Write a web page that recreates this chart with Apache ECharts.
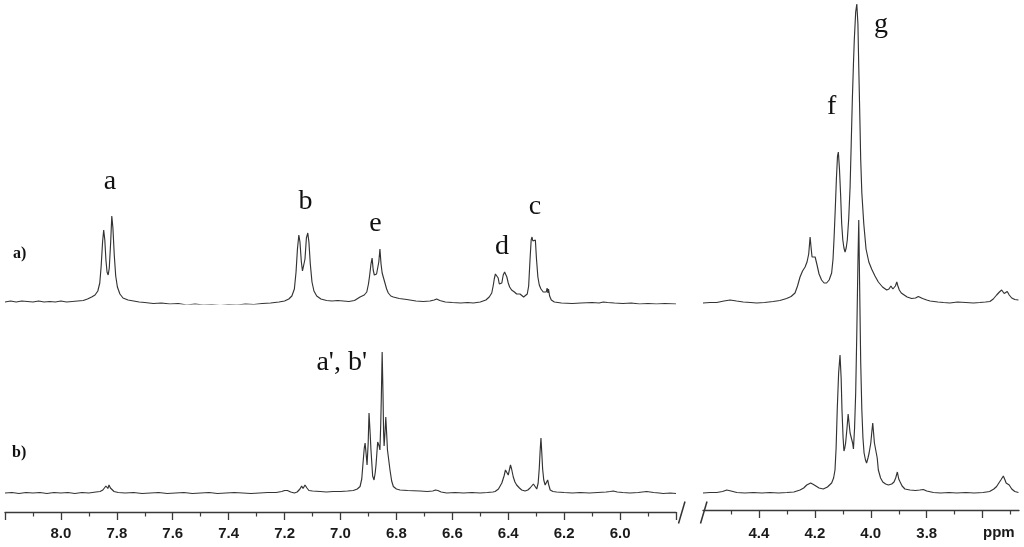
<!DOCTYPE html>
<html><head><meta charset="utf-8">
<script src="https://cdn.jsdelivr.net/npm/echarts@6/dist/echarts.min.js"></script>
<style>html,body{margin:0;padding:0;background:#fff}#c{width:1024px;height:547px}</style>
</head><body><div id="c"></div>
<script>
// ---- DATA: [ppm, intensity] ----
const upperLeft = [[8.200,2],[8.180,3],[8.160,2],[8.140,3],[8.120,2.5],[8.100,2],[8.080,3],[8.060,2],[8.040,2.5],[8.020,2],[8.000,3],[7.980,2],[7.960,2.5],[7.940,3],[7.920,3.5],[7.905,5],[7.890,7],[7.878,9],[7.868,13],[7.861,21],[7.856,38],[7.851,62],[7.847,74],[7.843,64],[7.839,44],[7.835,32],[7.831,29],[7.827,36],[7.822,62],[7.818,88],[7.814,76],[7.809,48],[7.804,28],[7.798,17],[7.789,10],[7.778,6],[7.760,4],[7.740,3],[7.720,2],[7.700,1.5],[7.670,0.5],[7.640,1],[7.610,0],[7.580,0.5],[7.550,-1],[7.520,0],[7.490,-1],[7.460,-0.5],[7.430,-1.5],[7.400,-0.5],[7.370,-1],[7.340,0],[7.310,-0.5],[7.280,0.5],[7.250,1],[7.220,2],[7.200,3],[7.185,5],[7.174,8],[7.165,15],[7.159,32],[7.154,55],[7.149,69],[7.145,62],[7.140,42],[7.136,33],[7.132,31],[7.127,45],[7.122,66],[7.117,71],[7.113,62],[7.108,40],[7.102,22],[7.095,13],[7.085,8],[7.070,5],[7.050,3.5],[7.030,3],[7.010,3.5],[6.990,3],[6.970,2.5],[6.950,3.5],[6.930,7],[6.915,9],[6.906,12],[6.900,20],[6.896,28],[6.891,40],[6.887,46],[6.883,34],[6.879,29],[6.875,31],[6.871,30],[6.867,30],[6.863,42],[6.859,55],[6.855,40],[6.851,31],[6.847,29],[6.841,21],[6.835,15],[6.829,11],[6.820,8],[6.811,7],[6.790,5.5],[6.763,4.5],[6.730,3],[6.704,2.5],[6.680,3],[6.665,4],[6.656,5],[6.645,3.5],[6.625,2],[6.600,1.5],[6.570,1],[6.545,1.5],[6.525,1],[6.500,2],[6.480,4],[6.468,7],[6.459,11],[6.454,18],[6.450,25],[6.446,30],[6.441,32],[6.436,26],[6.432,20],[6.427,19],[6.423,21],[6.418,29],[6.413,32],[6.409,33],[6.405,27],[6.400,21],[6.395,17],[6.388,14],[6.378,12],[6.370,10],[6.364,9],[6.358,10],[6.352,9],[6.345,7],[6.338,7],[6.332,10],[6.327,18],[6.322,45],[6.318,64],[6.315,67],[6.312,63],[6.309,62],[6.306,65],[6.303,64],[6.299,45],[6.294,27],[6.289,19],[6.283,15],[6.275,12],[6.268,10],[6.264,12],[6.261,16],[6.258,11],[6.256,15],[6.252,8],[6.246,4],[6.235,2],[6.210,1],[6.171,0.5],[6.140,1],[6.100,1.5],[6.075,1],[6.060,2],[6.054,3],[6.045,1.5],[6.020,1],[5.990,0.5],[5.960,1],[5.930,0],[5.900,0.5],[5.870,0],[5.840,0.5],[5.800,0]];

const upperRight = [[4.600,1],[4.575,1.5],[4.551,1.5],[4.525,3],[4.503,4],[4.480,3],[4.456,2],[4.430,1.5],[4.408,1],[4.380,1.5],[4.349,2.5],[4.325,3.5],[4.301,5.5],[4.285,7.5],[4.271,11],[4.262,18],[4.253,27],[4.244,33],[4.235,37],[4.228,42],[4.222,50],[4.217,67],[4.213,55],[4.210,47],[4.204,46],[4.199,47],[4.193,40],[4.185,30],[4.176,24],[4.167,21],[4.158,21],[4.149,24],[4.140,31],[4.135,45],[4.131,68],[4.127,95],[4.123,125],[4.119,148],[4.116,152],[4.112,135],[4.108,110],[4.104,80],[4.100,64],[4.096,56],[4.092,52],[4.088,56],[4.084,64],[4.079,85],[4.074,117],[4.070,160],[4.066,204],[4.062,240],[4.059,264],[4.054,292],[4.050,300],[4.046,280],[4.043,237],[4.039,185],[4.036,144],[4.032,111],[4.025,80],[4.017,55],[4.007,42],[3.997,35],[3.985,28],[3.973,22],[3.958,17],[3.943,14],[3.935,15],[3.928,18],[3.925,18],[3.921,15],[3.917,14],[3.912,18],[3.907,22],[3.903,18],[3.898,14],[3.891,11],[3.884,9],[3.870,7],[3.854,5.5],[3.840,6],[3.830,7.5],[3.824,7.5],[3.815,5.5],[3.800,4],[3.788,3],[3.760,2],[3.740,1.5],[3.717,1],[3.690,2],[3.660,1.5],[3.633,1],[3.610,1.5],[3.590,2],[3.574,2.5],[3.562,5],[3.550,9],[3.540,12],[3.532,14],[3.527,12],[3.523,10.5],[3.517,12],[3.512,12.5],[3.505,9],[3.496,6],[3.485,4.5],[3.472,4]];

const lowerLeft = [[8.200,0],[8.175,0.5],[8.150,-0.5],[8.125,0.5],[8.100,0],[8.075,0.5],[8.050,-0.5],[8.025,0.5],[8.000,0],[7.975,0.5],[7.950,-0.5],[7.925,0.5],[7.900,0],[7.875,1],[7.860,1.5],[7.850,3],[7.843,5],[7.839,7],[7.835,5],[7.832,4.5],[7.828,8],[7.823,5],[7.818,3],[7.810,1.5],[7.795,0.5],[7.770,0],[7.740,0.5],[7.710,-0.5],[7.680,0],[7.650,0.5],[7.620,-0.5],[7.590,0],[7.560,0.5],[7.530,-0.5],[7.500,0],[7.470,0.5],[7.440,-0.5],[7.410,0],[7.380,0.5],[7.350,0],[7.320,-0.5],[7.290,0],[7.260,0.5],[7.230,0.5],[7.210,1.5],[7.200,2.5],[7.190,2.5],[7.178,1],[7.165,0],[7.155,1],[7.145,4],[7.139,7],[7.134,4.5],[7.127,8],[7.120,5],[7.113,2.5],[7.100,2],[7.073,1.5],[7.050,1],[7.026,1.5],[7.000,1.5],[6.975,2],[6.954,2.5],[6.940,4],[6.930,6.5],[6.924,14],[6.920,28],[6.915,45],[6.912,50],[6.908,38],[6.905,28],[6.901,50],[6.898,80],[6.894,60],[6.891,43],[6.885,17],[6.880,13],[6.876,20],[6.873,28],[6.867,51],[6.862,47],[6.859,43],[6.856,70],[6.854,95],[6.851,141],[6.848,100],[6.846,62],[6.844,47],[6.841,60],[6.838,76],[6.835,60],[6.832,43],[6.827,32],[6.823,23],[6.817,12],[6.811,6.5],[6.800,4],[6.787,3],[6.760,2.5],[6.716,2],[6.690,1.5],[6.670,2],[6.660,3],[6.652,2.5],[6.640,1],[6.620,0],[6.590,0.5],[6.560,0],[6.530,0.5],[6.501,0],[6.475,0.5],[6.455,1],[6.447,1.5],[6.435,4],[6.423,10],[6.415,17],[6.410,23],[6.407,25],[6.403,21],[6.400,18],[6.396,23],[6.392,28],[6.388,24],[6.382,16],[6.376,11],[6.370,8],[6.360,5],[6.352,3],[6.340,2],[6.330,3],[6.322,5],[6.316,7],[6.310,9],[6.305,7],[6.298,4],[6.293,10],[6.289,25],[6.286,42],[6.283,55],[6.280,40],[6.277,24],[6.273,13],[6.268,8],[6.264,10],[6.259,13],[6.255,8],[6.250,3],[6.240,1.5],[6.227,1],[6.200,0.5],[6.170,0],[6.143,0.5],[6.110,0],[6.080,0.5],[6.050,1],[6.035,1.5],[6.024,2],[6.010,1],[5.990,0.5],[5.965,0],[5.935,0.5],[5.905,1.5],[5.880,0.5],[5.860,0],[5.846,-0.5],[5.820,0],[5.800,-0.5]];

const lowerRight = [[4.600,0],[4.575,0.5],[4.551,0.5],[4.530,1.5],[4.515,3],[4.500,2],[4.479,0.5],[4.450,0],[4.420,0.5],[4.390,0],[4.360,0.5],[4.330,0],[4.300,0.5],[4.275,1],[4.253,3],[4.240,5],[4.229,8],[4.215,10],[4.205,8.5],[4.199,7],[4.185,5],[4.170,4],[4.155,6],[4.140,10],[4.133,15],[4.128,23],[4.124,45],[4.120,83],[4.115,120],[4.110,138],[4.106,115],[4.103,83],[4.099,55],[4.096,42],[4.093,45],[4.090,50],[4.085,65],[4.081,79],[4.077,68],[4.074,60],[4.068,59],[4.065,50],[4.062,44],[4.058,65],[4.054,100],[4.050,160],[4.046,230],[4.043,273],[4.040,210],[4.036,130],[4.032,83],[4.028,55],[4.024,40],[4.019,33],[4.015,30],[4.010,35],[4.006,40],[4.000,50],[3.996,62],[3.993,70],[3.990,60],[3.987,50],[3.981,48],[3.977,35],[3.973,23],[3.965,15],[3.957,11],[3.947,9],[3.937,8],[3.925,9],[3.917,11],[3.911,15],[3.905,21],[3.900,14],[3.895,11],[3.888,7],[3.878,4],[3.860,3],[3.840,2.5],[3.825,3],[3.812,3.5],[3.800,2],[3.776,0.5],[3.750,0],[3.720,0.5],[3.693,0],[3.660,0.5],[3.630,0],[3.598,0.5],[3.575,1.5],[3.560,4],[3.550,6.5],[3.542,10],[3.535,13],[3.526,17],[3.520,13],[3.516,10],[3.510,11],[3.505,8],[3.496,4],[3.485,1.5],[3.472,0.5]];

const leftRange = [5.8, 8.2];
const rightRange = [3.47, 4.6];
const rightMajorTicks = [3.6, 3.8, 4.0, 4.2, 4.4];
const rightLabelTicks = [3.8, 4.0, 4.2, 4.4];
const rightMinorTicks = [3.5, 3.7, 3.9, 4.1, 4.3, 4.5];
const peakLabels = ['a', 'b', 'e', 'd', 'c', 'f', 'g', "a', b'"];
const traceLabels = ['a)', 'b)'];
const unitLabel = 'ppm';

// ---- CHART ----
const chart = echarts.init(document.getElementById('c'), null, {renderer: 'canvas'});
const LINE = '#333';
const AX = '#3a3a3a';
const labelFont = {fontFamily: 'Liberation Sans', fontWeight: 'bold', fontSize: 15, color: '#1a1a1a'};

function hiddenX(grid, range) {
  return {type: 'value', gridIndex: grid, min: range[0], max: range[1], inverse: true, show: false};
}
function hiddenY(grid, min, max) {
  return {type: 'value', gridIndex: grid, min: min, max: max, show: false};
}
function trace(data, idx) {
  return {type: 'line', xAxisIndex: idx, yAxisIndex: idx, data: data, showSymbol: false, symbol: 'none',
    lineStyle: {color: LINE, width: 1.15}, silent: true, animation: false};
}

const serif = '28px "Liberation Serif", "DejaVu Serif", serif';
const boldSerif = 'bold 16px "Liberation Serif", serif';
const labelPos = [[110, 182], [305.5, 202], [375.5, 224], [502, 247], [535, 207], [831.7, 107], [881, 25], [341.7, 363]];
const graphics = peakLabels.map((t, i) => ({
  type: 'text', silent: true,
  style: {text: t, x: labelPos[i][0], y: labelPos[i][1], font: serif, fill: '#111', align: 'center', verticalAlign: 'middle'}
}));
graphics.push({type: 'text', silent: true, style: {text: traceLabels[0], x: 13, y: 253.5, font: boldSerif, fill: '#111', align: 'left', verticalAlign: 'middle'}});
graphics.push({type: 'text', silent: true, style: {text: traceLabels[1], x: 12, y: 452.5, font: boldSerif, fill: '#111', align: 'left', verticalAlign: 'middle'}});
graphics.push({type: 'text', silent: true, style: {text: unitLabel, x: 983, y: 533, font: 'bold 15px "Liberation Sans", sans-serif', fill: '#1a1a1a', align: 'left', verticalAlign: 'middle'}});
// axis break marks
graphics.push({type: 'line', silent: true, shape: {x1: 685, y1: 501.5, x2: 678.5, y2: 523.5}, style: {stroke: '#333', lineWidth: 1.5}});
graphics.push({type: 'line', silent: true, shape: {x1: 707, y1: 501.5, x2: 700.5, y2: 523.5}, style: {stroke: '#333', lineWidth: 1.5}});

const option = {
  backgroundColor: '#fff',
  animation: false,
  grid: [
    {left: 5, width: 671, top: 2, height: 302},
    {left: 5, width: 671, top: 212, height: 300},
    {left: 703, width: 316, top: 2, height: 302},
    {left: 703, width: 316, top: 210, height: 300}
  ],
  xAxis: [
    hiddenX(0, leftRange),
    {type: 'value', gridIndex: 1, position: 'bottom', min: leftRange[0], max: leftRange[1], inverse: true, interval: 0.2,
      axisLine: {show: true, onZero: false, lineStyle: {color: AX, width: 1.3}},
      axisTick: {show: true, length: 8, lineStyle: {color: AX, width: 1.3}},
      minorTick: {show: true, splitNumber: 2, length: 4.5, lineStyle: {color: AX, width: 1.2}},
      splitLine: {show: false}, minorSplitLine: {show: false},
      axisLabel: Object.assign({margin: 14, formatter: v => (v > 5.85 && v < 8.15) ? v.toFixed(1) : ''}, labelFont)},
    hiddenX(2, rightRange),
    {type: 'value', gridIndex: 3, position: 'bottom', min: rightRange[0], max: rightRange[1], inverse: true,
      axisLine: {show: true, onZero: false, lineStyle: {color: AX, width: 1.3}},
      axisTick: {show: true, length: 8, customValues: rightMajorTicks, lineStyle: {color: AX, width: 1.3}},
      splitLine: {show: false},
      axisLabel: Object.assign({margin: 16, customValues: rightLabelTicks, formatter: v => v.toFixed(1)}, labelFont)},
    {type: 'value', gridIndex: 3, position: 'bottom', min: rightRange[0], max: rightRange[1], inverse: true,
      axisLine: {show: false, onZero: false},
      axisTick: {show: true, length: 4.5, customValues: rightMinorTicks, lineStyle: {color: AX, width: 1.2}},
      splitLine: {show: false}, axisLabel: {show: false}}
  ],
  yAxis: [hiddenY(0, 0, 302), hiddenY(1, -19, 281), hiddenY(2, 0, 302), hiddenY(3, -17, 283)],
  series: [trace(upperLeft, 0), trace(lowerLeft, 1), trace(upperRight, 2), trace(lowerRight, 3)],
  graphic: graphics
};
chart.setOption(option);
</script>
</body></html>
